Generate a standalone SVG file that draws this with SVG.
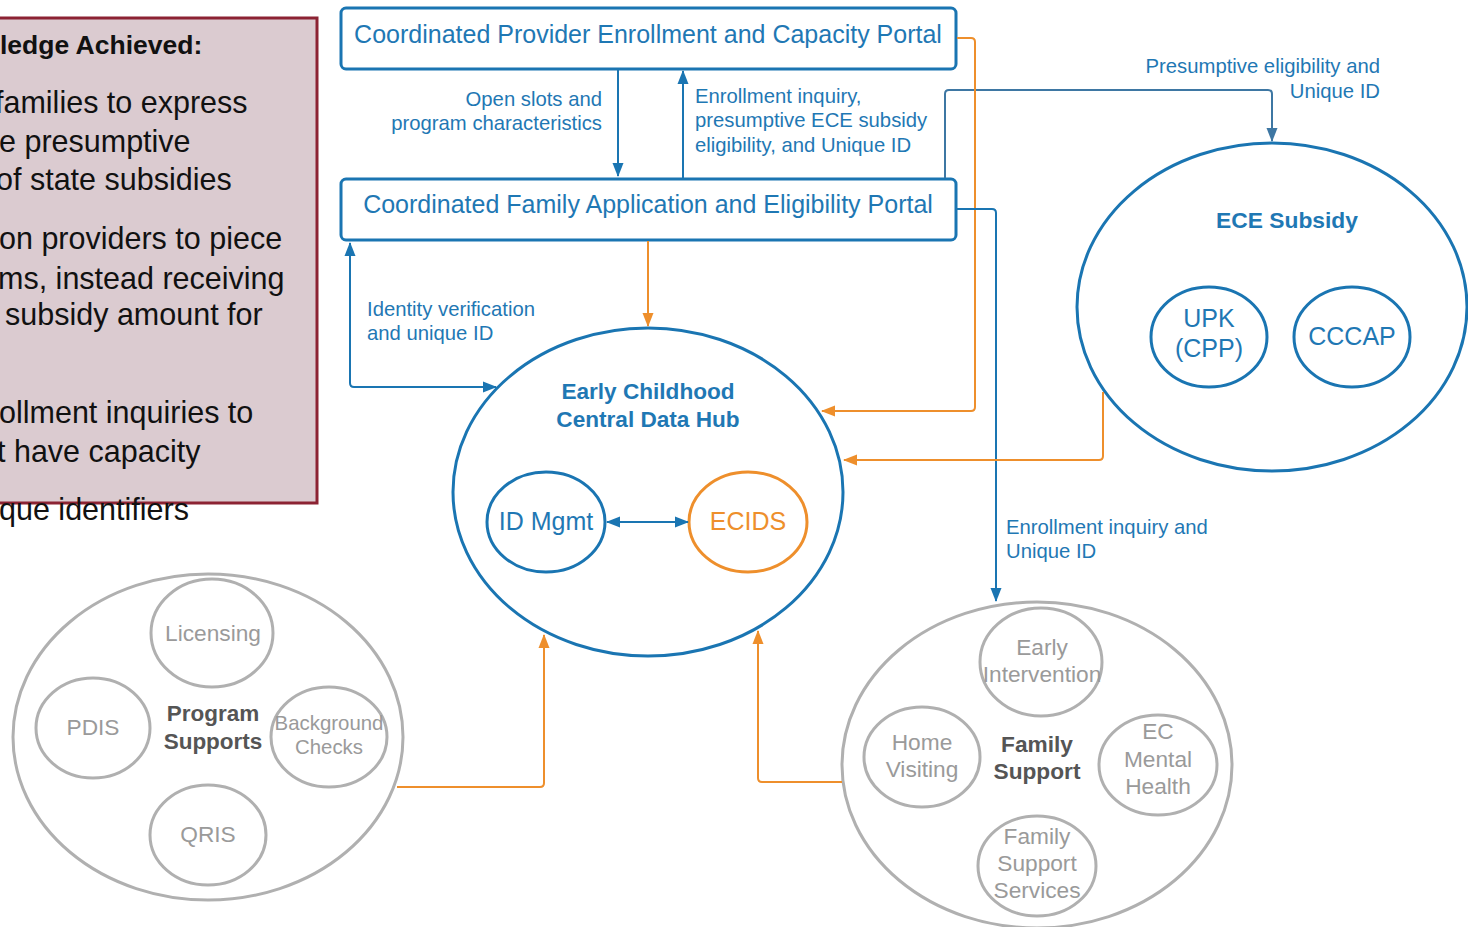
<svg xmlns="http://www.w3.org/2000/svg" width="1468" height="927" viewBox="0 0 1468 927">
<defs>
<style>
.t{font-family:"Liberation Sans",Arial,sans-serif}
.blue{fill:#1f78b4}
.orn{fill:#ee8f2c}
.gry{fill:#9a9a9a}
.dk{fill:#555;font-weight:bold}
.lbl{font-size:20.3px;fill:#1f78b4}
.bx{fill:#fff;stroke:#1a75b2;stroke-width:3}
.eb{fill:#fff;stroke:#1a75b2;stroke-width:3}
.eo{fill:#fff;stroke:#ee8f2c;stroke-width:3}
.eg{fill:#fff;stroke:#b0b0b0;stroke-width:3}
.cb{fill:none;stroke:#1a75b2;stroke-width:2}
.cs{fill:none;stroke:#3e77a3;stroke-width:2}
.co{fill:none;stroke:#ee8f2c;stroke-width:2}
.body{font-size:30.5px;fill:#111}
</style>
<marker id="ab" viewBox="0 0 14 12" refX="13" refY="6" markerWidth="14" markerHeight="12" markerUnits="userSpaceOnUse" orient="auto-start-reverse"><path d="M0,0.5 L14,6 L0,11.5 z" fill="#1a75b2"/></marker>
<marker id="as" viewBox="0 0 14 12" refX="13" refY="6" markerWidth="14" markerHeight="12" markerUnits="userSpaceOnUse" orient="auto-start-reverse"><path d="M0,0.5 L14,6 L0,11.5 z" fill="#3e77a3"/></marker>
<marker id="ao" viewBox="0 0 14 12" refX="13" refY="6" markerWidth="14" markerHeight="12" markerUnits="userSpaceOnUse" orient="auto-start-reverse"><path d="M0,0.5 L14,6 L0,11.5 z" fill="#ee8f2c"/></marker>
</defs>
<rect width="1468" height="927" fill="#fff"/>

<g id="pledge">
<rect x="-10" y="18" width="327" height="485" fill="#dbcbd0" stroke="#8c2333" stroke-width="3"/>
<text class="t" x="0" y="54" font-size="26.5" font-weight="bold" fill="#111">ledge Achieved:</text>
<text class="t body" x="-5" y="113">families to express</text>
<text class="t body" x="-1" y="152">e presumptive</text>
<text class="t body" x="-4" y="190">of state subsidies</text>
<text class="t body" x="-1" y="249">on providers to piece</text>
<text class="t body" x="-2" y="289">ms, instead receiving</text>
<text class="t body" x="5" y="325">subsidy amount for</text>
<text class="t body" x="-1" y="423">ollment inquiries to</text>
<text class="t body" x="-3" y="462">t have capacity</text>
<text class="t body" x="-1" y="520">que identifiers</text>
</g>

<g id="provider-portal">
<rect class="bx" x="341" y="8" width="615" height="61" rx="5"/>
<text class="t blue" x="648" y="43" font-size="25" text-anchor="middle">Coordinated Provider Enrollment and Capacity Portal</text>
</g>

<g id="family-portal">
<rect class="bx" x="341" y="179" width="615" height="61" rx="5"/>
<text class="t blue" x="648" y="213" font-size="25" text-anchor="middle">Coordinated Family Application and Eligibility Portal</text>
</g>

<g id="hub">
<ellipse class="eb" cx="648" cy="492" rx="195" ry="164"/>
<text class="t blue" x="648" y="399" font-size="22.6" font-weight="bold" text-anchor="middle">Early Childhood</text>
<text class="t blue" x="648" y="427" font-size="22.6" font-weight="bold" text-anchor="middle">Central Data Hub</text>
</g>
<g id="id-mgmt">
<ellipse class="eb" cx="546" cy="522" rx="59" ry="50"/>
<text class="t blue" x="546" y="530" font-size="25" text-anchor="middle">ID Mgmt</text>
</g>
<g id="ecids">
<ellipse class="eo" cx="748" cy="522" rx="59" ry="50"/>
<text class="t orn" x="748" y="530" font-size="25" text-anchor="middle">ECIDS</text>
</g>

<g id="ece-subsidy">
<ellipse class="eb" cx="1272" cy="307" rx="195" ry="164"/>
<text class="t blue" x="1287" y="228" font-size="22.8" font-weight="bold" text-anchor="middle">ECE Subsidy</text>
</g>
<g id="upk">
<ellipse class="eb" cx="1209" cy="337" rx="58" ry="50"/>
<text class="t blue" x="1209" y="327" font-size="25" text-anchor="middle">UPK</text>
<text class="t blue" x="1209" y="357" font-size="25" text-anchor="middle">(CPP)</text>
</g>
<g id="cccap">
<ellipse class="eb" cx="1352" cy="337" rx="58" ry="50"/>
<text class="t blue" x="1352" y="345" font-size="25" text-anchor="middle">CCCAP</text>
</g>

<g id="program-supports">
<ellipse class="eg" cx="208" cy="737" rx="195" ry="163"/>
<text class="t dk" x="213" y="721" font-size="22.5" text-anchor="middle">Program</text>
<text class="t dk" x="213" y="749" font-size="22.5" text-anchor="middle">Supports</text>
</g>
<g id="licensing">
<ellipse class="eg" cx="212" cy="633" rx="61" ry="54"/>
<text class="t gry" x="213" y="641" font-size="22.7" text-anchor="middle">Licensing</text>
</g>
<g id="pdis">
<ellipse class="eg" cx="93" cy="728" rx="57" ry="50"/>
<text class="t gry" x="93" y="735" font-size="22.7" text-anchor="middle">PDIS</text>
</g>
<g id="background-checks">
<ellipse class="eg" cx="329" cy="737" rx="58" ry="50"/>
<text class="t gry" x="329" y="730" font-size="20.4" text-anchor="middle">Background</text>
<text class="t gry" x="329" y="754" font-size="20.4" text-anchor="middle">Checks</text>
</g>
<g id="qris">
<ellipse class="eg" cx="208" cy="835" rx="58" ry="50"/>
<text class="t gry" x="208" y="842" font-size="22.7" text-anchor="middle">QRIS</text>
</g>

<g id="family-support">
<ellipse class="eg" cx="1037" cy="765" rx="195" ry="163"/>
<text class="t dk" x="1037" y="752" font-size="22.7" text-anchor="middle">Family</text>
<text class="t dk" x="1037" y="779" font-size="22.7" text-anchor="middle">Support</text>
</g>
<g id="early-intervention">
<ellipse class="eg" cx="1041" cy="662" rx="61" ry="54"/>
<text class="t gry" x="1042" y="655" font-size="22.7" text-anchor="middle">Early</text>
<text class="t gry" x="1042" y="682" font-size="22.7" text-anchor="middle">Intervention</text>
</g>
<g id="home-visiting">
<ellipse class="eg" cx="922" cy="757" rx="58" ry="50"/>
<text class="t gry" x="922" y="750" font-size="22.7" text-anchor="middle">Home</text>
<text class="t gry" x="922" y="777" font-size="22.7" text-anchor="middle">Visiting</text>
</g>
<g id="ec-mental-health">
<ellipse class="eg" cx="1158" cy="765" rx="59" ry="50"/>
<text class="t gry" x="1158" y="739" font-size="22.7" text-anchor="middle">EC</text>
<text class="t gry" x="1158" y="767" font-size="22.7" text-anchor="middle">Mental</text>
<text class="t gry" x="1158" y="794" font-size="22.7" text-anchor="middle">Health</text>
</g>
<g id="family-support-services">
<ellipse class="eg" cx="1037" cy="866" rx="59" ry="50"/>
<text class="t gry" x="1037" y="844" font-size="22.7" text-anchor="middle">Family</text>
<text class="t gry" x="1037" y="871" font-size="22.7" text-anchor="middle">Support</text>
<text class="t gry" x="1037" y="898" font-size="22.7" text-anchor="middle">Services</text>
</g>

<g id="connectors">
<path class="cb" d="M618,69 V176" marker-end="url(#ab)"/>
<path class="cb" d="M683,178 V71" marker-end="url(#ab)"/>
<path class="cs" d="M945,178 V94 Q945,90 949,90 H1268 Q1272,90 1272,94 V141" marker-end="url(#as)"/>
<path class="co" d="M957,38 H971 Q975,38 975,42 V407 Q975,411 971,411 H822" marker-end="url(#ao)"/>
<path class="cb" d="M957,209 H992 Q996,209 996,213 V601" marker-end="url(#ab)"/>
<path class="co" d="M1103,392 V456 Q1103,460 1099,460 H844" marker-end="url(#ao)"/>
<path class="co" d="M648,241 V326" marker-end="url(#ao)"/>
<path class="cb" d="M496,387 H354 Q350,387 350,383 V243" marker-start="url(#ab)" marker-end="url(#ab)"/>
<path class="cb" d="M607,522 H688" marker-start="url(#ab)" marker-end="url(#ab)"/>
<path class="co" d="M397,787 H540 Q544,787 544,783 V635" marker-end="url(#ao)"/>
<path class="co" d="M842,782 H762 Q758,782 758,778 V631" marker-end="url(#ao)"/>
<text class="t lbl" x="602" y="106" text-anchor="end">Open slots and</text>
<text class="t lbl" x="602" y="130" text-anchor="end">program characteristics</text>
<text class="t lbl" x="695" y="103">Enrollment inquiry,</text>
<text class="t lbl" x="695" y="127">presumptive ECE subsidy</text>
<text class="t lbl" x="695" y="152">eligibility, and Unique ID</text>
<text class="t lbl" x="1380" y="73" text-anchor="end">Presumptive eligibility and</text>
<text class="t lbl" x="1380" y="98" text-anchor="end">Unique ID</text>
<text class="t lbl" x="367" y="316">Identity verification</text>
<text class="t lbl" x="367" y="340">and unique ID</text>
<text class="t lbl" x="1006" y="534">Enrollment inquiry and</text>
<text class="t lbl" x="1006" y="558">Unique ID</text>
</g>
</svg>
